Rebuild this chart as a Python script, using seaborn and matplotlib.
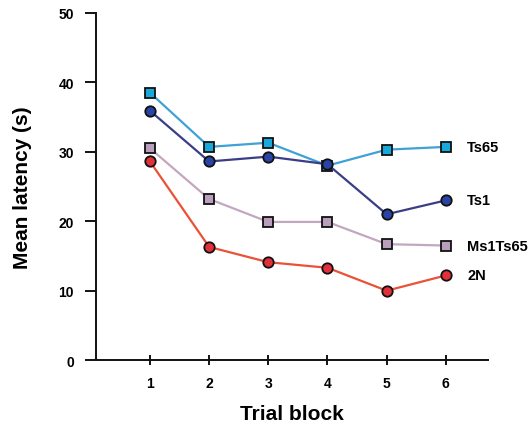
import matplotlib
matplotlib.use('Agg')
import matplotlib.pyplot as plt
import seaborn as sns
import pandas as pd

# data
blocks = [1, 2, 3, 4, 5, 6]
ts65 = [38.5, 30.7, 31.3, 28.0, 30.3, 30.7]
ts1 = [35.9, 28.6, 29.3, 28.2, 21.0, 23.0]
ms1ts65 = [30.5, 23.2, 19.9, 19.9, 16.7, 16.5]
n2 = [28.6, 16.3, 14.1, 13.3, 10.0, 12.2]
groups = ['Ts65', 'Ts1', 'Ms1Ts65', '2N']
y_ticks = [0, 10, 20, 30, 40, 50]

sns.set_style('white')
plt.rcParams['font.family'] = ['Liberation Sans', 'DejaVu Sans']

# line colour, marker face, marker shape
styles = {
    'Ts65': ('#3fa2d6', '#17a8dc', 's'),
    'Ts1': ('#3b3d86', '#2a44a6', 'o'),
    'Ms1Ts65': ('#c3a7bf', '#b99fbb', 's'),
    '2N': ('#ea5237', '#e2303a', 'o'),
}
series = {'Ts65': ts65, 'Ts1': ts1, 'Ms1Ts65': ms1ts65, '2N': n2}

fig = plt.figure(figsize=(5.28, 4.31), dpi=100)
ax = fig.add_axes([0.182, 0.162, 0.742, 0.806])

for g in groups:
    df = pd.DataFrame({'block': blocks, 'latency': series[g]})
    line_c, face_c, mk = styles[g]
    sns.lineplot(data=df, x='block', y='latency', ax=ax, color=line_c,
                 linewidth=1.6, marker=mk, markersize=7.5,
                 markerfacecolor=face_c, markeredgecolor='#111111',
                 markeredgewidth=1.3, zorder=3)
    ax.text(6.36, series[g][-1], g, fontsize=10.5, fontweight='bold',
            va='center', ha='left', color='black')

ax.set_xlim(0.09, 6.71)
ax.set_ylim(0, 50)
ax.set_xticks(blocks)
ax.set_yticks(y_ticks)
ax.tick_params(axis='y', left=True, direction='out', length=8, width=1.3,
               labelsize=10, pad=8, colors='black')
ax.tick_params(axis='x', bottom=True, direction='inout', length=7, width=1.3,
               labelsize=10, pad=8, colors='black')
for lab in ax.get_xticklabels() + ax.get_yticklabels():
    lab.set_fontweight('bold')

for s in ['top', 'right']:
    ax.spines[s].set_visible(False)
for s in ['left', 'bottom']:
    ax.spines[s].set_linewidth(1.4)
    ax.spines[s].set_color('#111111')

ax.set_xlabel('Trial block', fontsize=15, fontweight='bold', labelpad=10, color='black')
ax.set_ylabel('Mean latency (s)', fontsize=15, fontweight='bold', labelpad=19, color='black')

fig.savefig('out.png', dpi=100)
